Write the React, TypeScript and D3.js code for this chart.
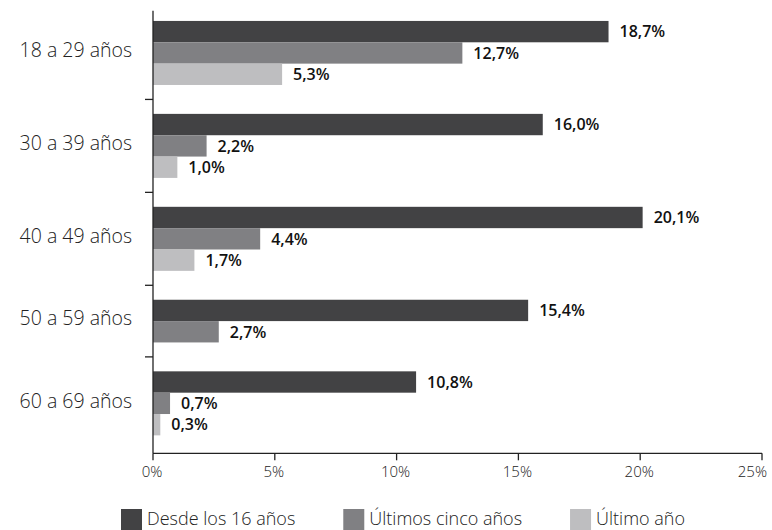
import React, { useEffect, useRef } from "react";
import * as d3 from "d3";

// Age groups and the three reference periods
const ageGroups = ["18 a 29 años", "30 a 39 años", "40 a 49 años", "50 a 59 años", "60 a 69 años"];
const seriesNames = ["Desde los 16 años", "Últimos cinco años", "Último año"];
const desde16 = [18.7, 16.0, 20.1, 15.4, 10.8];
const ultimosCinco = [12.7, 2.2, 4.4, 2.7, 0.7];
const ultimoAnio: (number | null)[] = [5.3, 1.0, 1.7, null, 0.3];
const seriesColors = ["#424244", "#808083", "#bebec0"];
const xTicks = [0, 5, 10, 15, 20, 25];

const W = 772;
const H = 530;
const GAP_UNITS = 1.354; // space between groups, in bar heights
const FONT = "'Open Sans', sans-serif";

export default function App() {
  const ref = useRef<SVGSVGElement | null>(null);

  useEffect(() => {
    const svg = d3.select(ref.current);
    svg.selectAll("*").remove();

    const seriesValues = [desde16, ultimosCinco, ultimoAnio];

    // Stack bars group by group; a missing value takes no slot.
    type Bar = { group: number; series: number; value: number; slot: number };
    const bars: Bar[] = [];
    const groupSpans: { start: number; end: number }[] = [];
    let cursor = 0;
    ageGroups.forEach((_, gi) => {
      const start = cursor;
      seriesValues.forEach((vals, si) => {
        const v = vals[gi];
        if (v === null || v === undefined) return;
        bars.push({ group: gi, series: si, value: v as number, slot: cursor });
        cursor += 1;
      });
      groupSpans.push({ start, end: cursor });
      if (gi < ageGroups.length - 1) cursor += GAP_UNITS;
    });
    const total = cursor;

    const x = d3.scaleLinear().domain([0, 25]).range([153, 762]);
    const y = d3.scaleLinear().domain([-0.48, total + 0.84]).range([10.7, 453.3]);

    const g = svg.append("g");

    // bars
    g.selectAll("rect.bar")
      .data(bars)
      .join("rect")
      .attr("class", "bar")
      .attr("x", x(0))
      .attr("y", (d) => y(d.slot))
      .attr("width", (d) => x(d.value) - x(0))
      .attr("height", (d) => y(d.slot + 1) - y(d.slot))
      .attr("fill", (d) => seriesColors[d.series]);

    // value labels
    g.selectAll("text.val")
      .data(bars)
      .join("text")
      .attr("class", "val")
      .attr("x", (d) => x(d.value) + 11)
      .attr("y", (d) => y(d.slot + 0.5) + 1.5)
      .attr("dominant-baseline", "middle")
      .attr("font-family", FONT)
      .attr("font-weight", 600)
      .attr("font-size", 16)
      .attr("fill", "#111")
      .text((d) => d.value.toFixed(1).replace(".", ",") + "%");

    // category labels
    g.selectAll("text.cat")
      .data(groupSpans)
      .join("text")
      .attr("class", "cat")
      .attr("x", 132)
      .attr("y", (d) => y((d.start + d.end) / 2) - 1)
      .attr("text-anchor", "end")
      .attr("dominant-baseline", "middle")
      .attr("font-family", FONT)
      .attr("font-weight", 300)
      .attr("font-size", 19.5)
      .attr("fill", "#222")
      .text((_, i) => ageGroups[i]);

    // vertical axis with separators between groups
    const axisColor = "#222";
    g.append("line")
      .attr("x1", x(0)).attr("x2", x(0))
      .attr("y1", y.range()[0]).attr("y2", y.range()[1])
      .attr("stroke", axisColor).attr("stroke-width", 1.3);
    const separators = groupSpans.slice(0, -1).map((s, i) => (s.end + groupSpans[i + 1].start) / 2);
    g.selectAll("line.sep")
      .data(separators)
      .join("line")
      .attr("class", "sep")
      .attr("x1", x(0) - 8).attr("x2", x(0))
      .attr("y1", (d) => y(d)).attr("y2", (d) => y(d))
      .attr("stroke", axisColor).attr("stroke-width", 1.3);

    // horizontal axis
    const yBase = y.range()[1];
    g.append("line")
      .attr("x1", x(0)).attr("x2", x(25))
      .attr("y1", yBase).attr("y2", yBase)
      .attr("stroke", axisColor).attr("stroke-width", 1.3);
    g.selectAll("line.xt")
      .data(xTicks)
      .join("line")
      .attr("class", "xt")
      .attr("x1", (d) => x(d)).attr("x2", (d) => x(d))
      .attr("y1", yBase).attr("y2", yBase + 7)
      .attr("stroke", axisColor).attr("stroke-width", 1.3);
    const last = xTicks[xTicks.length - 1];
    g.selectAll("text.xl")
      .data(xTicks)
      .join("text")
      .attr("class", "xl")
      .attr("x", (d) => (d === last ? W - 5 : x(d) - 1))
      .attr("y", yBase + 20)
      .attr("text-anchor", (d) => (d === last ? "end" : "middle"))
      .attr("dominant-baseline", "middle")
      .attr("font-family", FONT)
      .attr("font-weight", 300)
      .attr("font-size", 15)
      .attr("fill", "#222")
      .text((d) => d + "%");

    // legend
    const legend = svg.append("g");
    let lx = 121;
    seriesNames.forEach((name, i) => {
      legend.append("rect")
        .attr("x", lx).attr("y", 509)
        .attr("width", 21).attr("height", 21)
        .attr("fill", seriesColors[i]);
      const t = legend.append("text")
        .attr("x", lx + 26)
        .attr("y", 520)
        .attr("dominant-baseline", "middle")
        .attr("font-family", FONT)
        .attr("font-weight", 300)
        .attr("font-size", 18)
        .attr("fill", "#222")
        .text(name);
      const w = (t.node() as SVGTextElement).getComputedTextLength();
      lx += 26 + w + 48;
    });
  }, []);

  return (
    <svg
      ref={ref}
      width={W}
      height={H}
      style={{ position: "absolute", left: 0, top: 0, background: "#fff" }}
    />
  );
}
